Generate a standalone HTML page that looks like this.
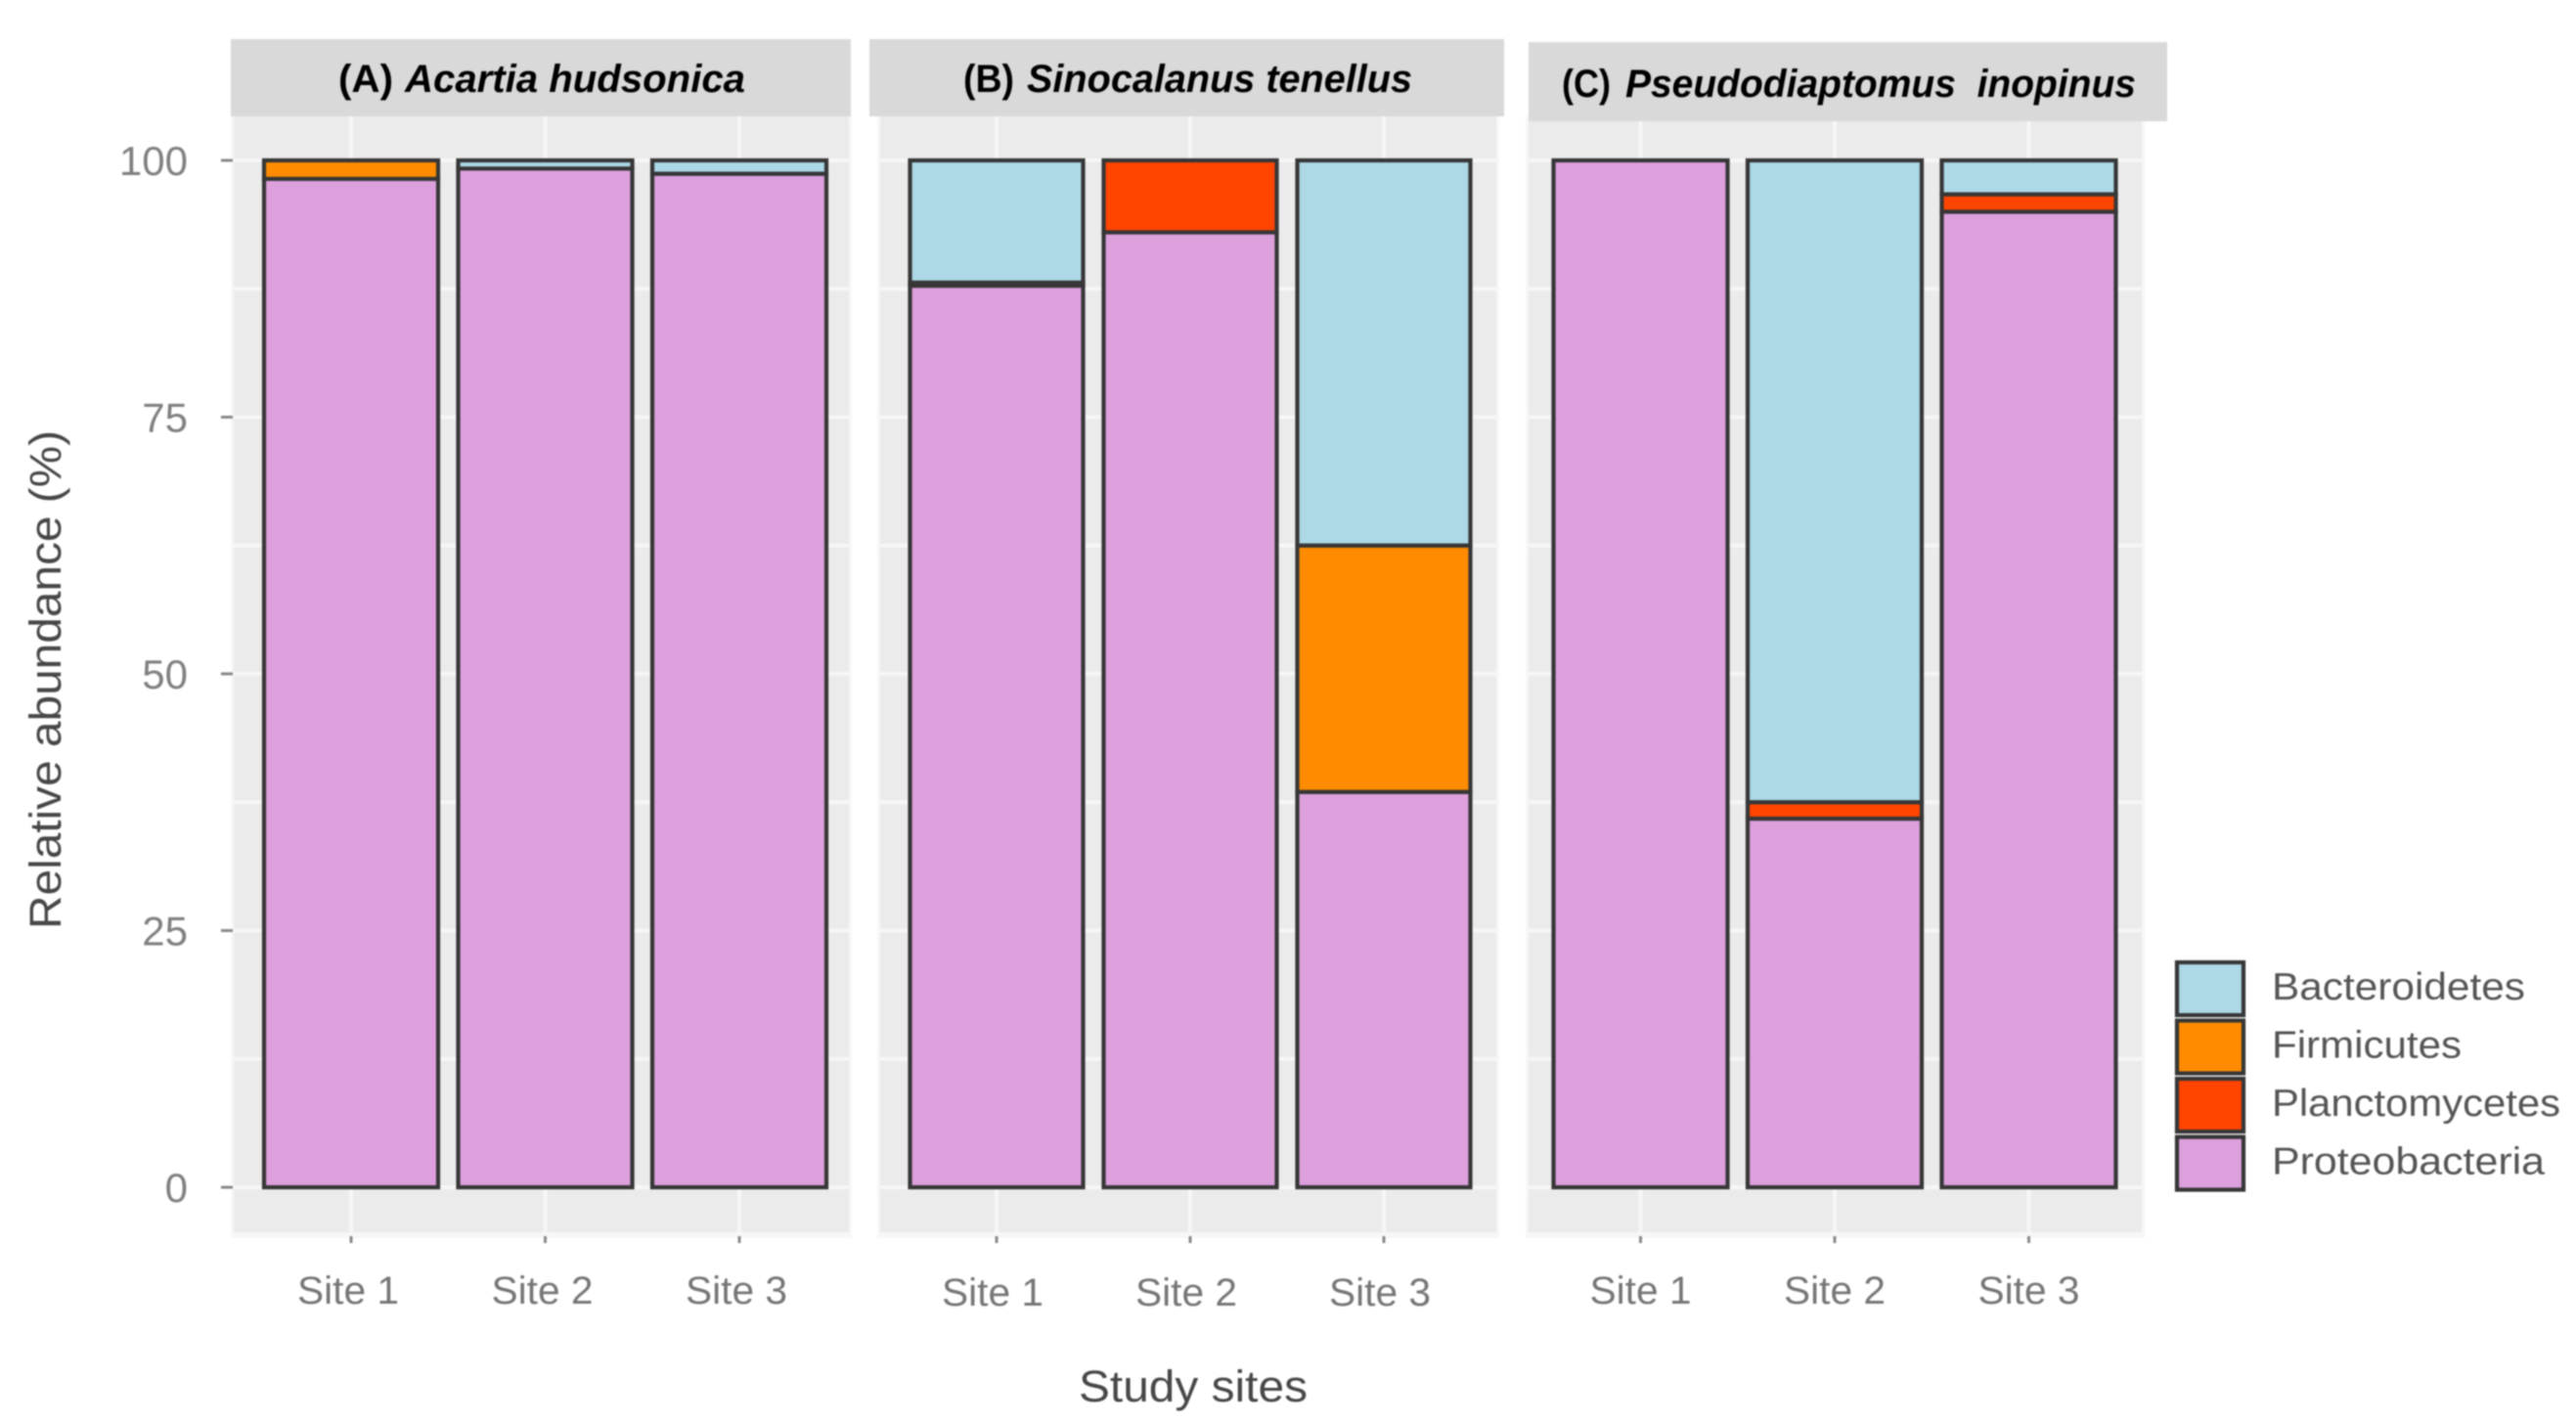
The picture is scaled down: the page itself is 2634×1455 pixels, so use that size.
<!DOCTYPE html>
<html lang="en">
<head>
<meta charset="utf-8">
<title>Relative abundance of bacterial phyla in copepods</title>
<style>
  html, body { margin: 0; padding: 0; background: #fff; }
  #chart { display: block; width: 2634px; height: 1455px; filter: blur(0.7px); font-family: "Liberation Sans", sans-serif; }
</style>
</head>
<body>
<svg id="chart" xmlns="http://www.w3.org/2000/svg" width="2634" height="1455" viewBox="0 0 2634 1455">
  <rect x="0" y="0" width="2634" height="1455" fill="#fff"/>
  <g id="panels"></g>
  <g id="yaxis"></g>
  <text transform="translate(62,695) rotate(-90)" text-anchor="middle" font-size="45" fill="#474747" textLength="510" lengthAdjust="spacingAndGlyphs">Relative abundance (%)</text>
  <text x="1103" y="1433" font-size="45" fill="#474747" textLength="234" lengthAdjust="spacingAndGlyphs">Study sites</text>
  <g id="legend"></g>
</svg>
<script>
// ---- Data ----
const categories = ['Site 1', 'Site 2', 'Site 3'];
const panelTags = ['(A)', '(B)', '(C)'];
const panelSpecies = ['Acartia hudsonica', 'Sinocalanus tenellus', 'Pseudodiaptomus\u00A0\u00A0inopinus'];
const yTicks = [0, 25, 50, 75, 100];
const yMinorTicks = [12.5, 37.5, 62.5, 87.5];
const legendLabels = ['Bacteroidetes', 'Firmicutes', 'Planctomycetes', 'Proteobacteria'];
// one row per panel, one value per site
const bacteroidetes = [[0, 0.8, 1.3], [11.9, 0, 37.5], [0, 62.5, 3.3]];
const firmicutes = [[1.8, 0, 0], [0, 0, 24], [0, 0, 0]];
const planctomycetes = [[0, 0, 0], [0.3, 7, 0], [0, 1.6, 1.7]];
const proteobacteria = [[98.2, 99.2, 98.7], [87.8, 93, 38.5], [100, 35.9, 95]];

// ---- Layout ----
const fills = { Bacteroidetes: '#ADD8E6', Firmicutes: '#FF8C00', Planctomycetes: '#FF4500', Proteobacteria: '#DDA0DD' };
const seriesByName = { Bacteroidetes: bacteroidetes, Firmicutes: firmicutes, Planctomycetes: planctomycetes, Proteobacteria: proteobacteria };
const stackOrder = ['Proteobacteria', 'Planctomycetes', 'Firmicutes', 'Bacteroidetes'];
const legendWidths = { Bacteroidetes: 259, Firmicutes: 194, Planctomycetes: 295, Proteobacteria: 279 };
const layout = [
  { left: 239, right: 868, first: 359, step: 198.5, barWidth: 178, labelDx: -3, labelY: 1333, stripX: 236, stripW: 634, stripY: 40, stripH: 79, tagX: 346, tagW: 56, nameX: 414, nameW: 348, textY: 94 },
  { left: 900, right: 1530, first: 1019, step: 198, barWidth: 177, labelDx: -4, labelY: 1335, stripX: 889, stripW: 649, stripY: 40, stripH: 79, tagX: 985, tagW: 52, nameX: 1050, nameW: 394, textY: 94 },
  { left: 1563, right: 2190, first: 1677.5, step: 198.5, barWidth: 178, labelDx: 0, labelY: 1333, stripX: 1563, stripW: 653, stripY: 43, stripH: 81, tagX: 1597, tagW: 50, nameX: 1662, nameW: 522, textY: 99 }
];
const SVG_NS = 'http://www.w3.org/2000/svg';
const PANEL_TOP = 119, PANEL_BOTTOM = 1260;

function yScale(v) { return 1214 - v * 10.5; }
function xScale(panel, i) { return layout[panel].first + i * layout[panel].step; }

function make(parent, tag, attrs, text) {
  const el = document.createElementNS(SVG_NS, tag);
  for (const k in attrs) el.setAttribute(k, attrs[k]);
  if (text !== undefined) el.textContent = text;
  parent.appendChild(el);
  return el;
}

const panelsG = document.getElementById('panels');
const yG = document.getElementById('yaxis');
const legendG = document.getElementById('legend');

layout.forEach(function (p, pi) {
  const g = make(panelsG, 'g', {});
  
  

  const halo = make(g, 'rect', { x: p.left - 3, y: PANEL_TOP, width: p.right - p.left + 6, height: PANEL_BOTTOM - PANEL_TOP + 6, fill: '#f7f7f7' });
  
  

  const bg = make(g, 'rect', { x: p.left, y: PANEL_TOP, width: p.right - p.left, height: PANEL_BOTTOM - PANEL_TOP, fill: '#ebebeb' });
  
  

  yMinorTicks.concat(yTicks).forEach(function (v) {
    const line = make(g, 'line', { x1: p.left, x2: p.right, y1: yScale(v), y2: yScale(v), stroke: '#f6f6f6', 'stroke-width': 4 });
    
    
  });

  categories.forEach(function (cat, i) {
    const x = xScale(pi, i);
    const grid = make(g, 'line', { x1: x, x2: x, y1: PANEL_TOP, y2: PANEL_BOTTOM, stroke: '#f6f6f6', 'stroke-width': 4 });
    
    

    const tick = make(g, 'line', { x1: x, x2: x, y1: 1264, y2: 1271, stroke: '#8a8a8a', 'stroke-width': 3 });
    
    

    const label = make(g, 'text', { x: x + p.labelDx - 52, y: p.labelY, 'font-size': 40, fill: '#767676', textLength: 104, lengthAdjust: 'spacingAndGlyphs' }, cat);
    
    
  });

  categories.forEach(function (cat, i) {
    let base = 0;
    stackOrder.forEach(function (name) {
      const v = seriesByName[name][pi][i];
      if (v <= 0) return;
      const x = xScale(pi, i) - p.barWidth / 2;
      const bar = make(g, 'rect', { x: x, y: yScale(base + v), width: p.barWidth, height: yScale(base) - yScale(base + v), fill: fills[name], stroke: '#363636', 'stroke-width': 4.2 });
      
      
      base += v;
    });
  });

  const strip = make(g, 'rect', { x: p.stripX, y: p.stripY, width: p.stripW, height: p.stripH, fill: '#d9d9d9' });
  
  

  const tag = make(g, 'text', { x: p.tagX, y: p.textY, 'font-size': 40, 'font-weight': 'bold', fill: '#000', textLength: p.tagW, lengthAdjust: 'spacingAndGlyphs' }, panelTags[pi]);
  
  

  const species = make(g, 'text', { x: p.nameX, y: p.textY, 'font-size': 40, 'font-weight': 'bold', 'font-style': 'italic', fill: '#000', textLength: p.nameW, lengthAdjust: 'spacingAndGlyphs' }, panelSpecies[pi]);
  
  
});

yTicks.forEach(function (v) {
  const y = yScale(v);
  const tick = make(yG, 'line', { x1: 226, x2: 238, y1: y, y2: y, stroke: '#8a8a8a', 'stroke-width': 3 });
  
  

  const label = make(yG, 'text', { x: 192, y: y + 15, 'text-anchor': 'end', 'font-size': 42, fill: '#808080' }, String(v));
  
  
});

const LEGEND_TOP = 984, LEGEND_STEP = 59.5;
legendLabels.forEach(function (name, i) {
  const y = LEGEND_TOP + i * LEGEND_STEP;
  const swatch = make(legendG, 'rect', { x: 2226, y: y, width: 68, height: 54, fill: fills[name], stroke: '#363636', 'stroke-width': 4.2 });
  
  

  const label = make(legendG, 'text', { x: 2323, y: y + 38, 'font-size': 39, fill: '#555', textLength: legendWidths[name], lengthAdjust: 'spacingAndGlyphs' }, name);
  
  
});
</script>
</body>
</html>
